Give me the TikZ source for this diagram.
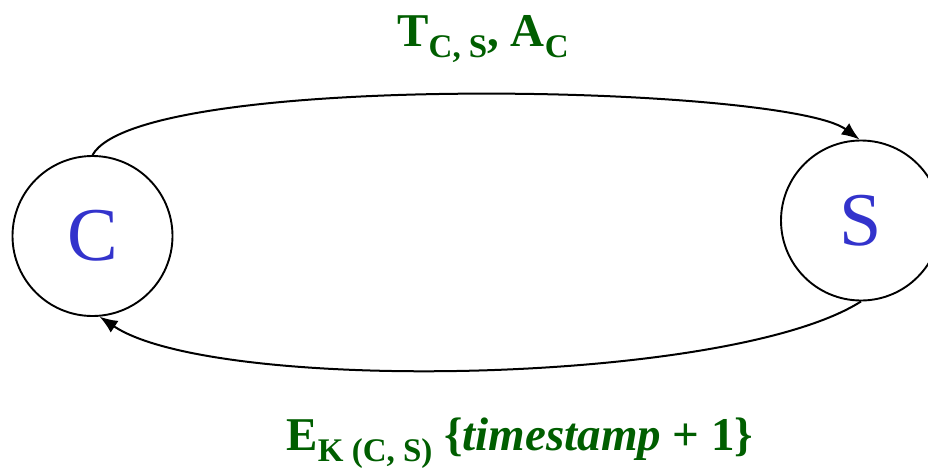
\documentclass[tikz,border=0pt]{standalone}
\usepackage{fontspec}
\setmainfont{Liberation Serif}
\usetikzlibrary{arrows.meta}
\definecolor{msggreen}{HTML}{005E00}
\definecolor{partyblue}{HTML}{3333CC}

\newcommand{\lowsub}[1]{\raisebox{-0.24em}{\fontsize{33}{33}\selectfont #1}}

\begin{document}
\begin{tikzpicture}[x=1pt, y=1pt,
    party/.style={draw, circle, line width=1.9pt, inner sep=0pt, minimum size=160pt,
      text=partyblue, font=\fontsize{76}{76}\selectfont},
    msg/.style={text=msggreen, font=\fontsize{47}{50}\selectfont\bfseries},
    flow/.style={line width=2pt, -{Latex[length=18pt, width=14pt]}}]
      \useasboundingbox (0,0) rectangle (928,-469);
      \node[party] (C) at (92.5,-236) {C};
      \node[party] (S) at (861,-220.5) {S};
      \node[msg, anchor=base] (top) at (483,-46) {T\lowsub{C, S}, A\lowsub{C}};
      \node[msg, anchor=base] (bottom) at (520,-450) {E\lowsub{K (C, S)} \{\textit{timestamp} + 1\}};
      % request and reply
      \draw[flow] (C.90) .. controls (140,-70) and (786,-85) .. (S.91);
      \draw[flow] (S.270) .. controls (730,-385) and (215,-394) .. (C.275);
    \end{tikzpicture}
\end{document}
